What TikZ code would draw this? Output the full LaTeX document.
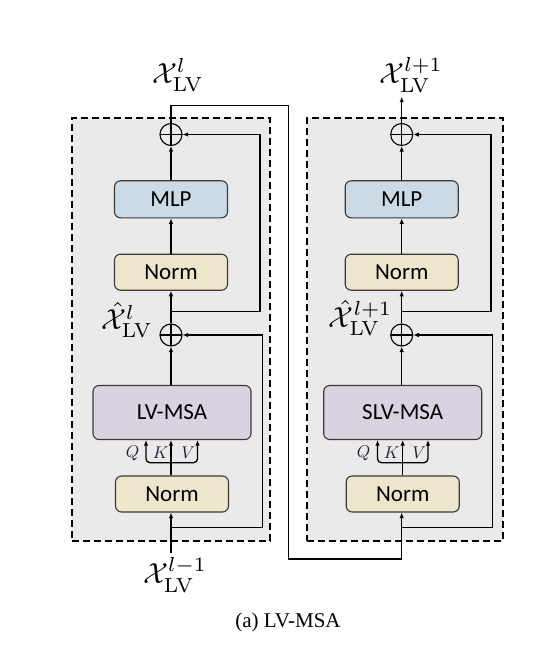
\documentclass[tikz,border=0pt]{standalone}
\usepackage{amsmath}
\usepackage[no-math]{fontspec}
\newfontfamily\boxfont{Carlito}
\newfontfamily\capfont{Liberation Serif}
\usetikzlibrary{arrows.meta}
\definecolor{panelbg}{HTML}{EAEAEA}
\definecolor{mlpc}{HTML}{CCDAE5}
\definecolor{normc}{HTML}{EEE5CD}
\definecolor{msac}{HTML}{DAD1E1}
\definecolor{boxline}{HTML}{3A3A3A}
\definecolor{qkvc}{HTML}{1A2238}
\tikzset{
  blk/.style={draw=boxline, line width=1.1pt, rounded corners=6pt, inner sep=0pt,
    font=\boxfont\fontsize{23}{26}\selectfont},
  mlpbox/.style={blk, fill=mlpc, minimum width=113pt, minimum height=37pt},
  normbox/.style={blk, fill=normc, minimum width=113pt, minimum height=36pt},
  msabox/.style={blk, fill=msac, minimum width=158pt, minimum height=54pt},
  addop/.style={circle, draw, line width=1.1pt, minimum size=22pt, inner sep=0pt,
    path picture={\draw[line width=1.1pt] (path picture bounding box.north) -- (path picture bounding box.south)
      (path picture bounding box.west) -- (path picture bounding box.east);}},
  conn/.style={line width=1.3pt, -{Latex[length=5.5pt,width=4.5pt]}},
  wire/.style={line width=1.3pt},
  panel/.style={draw, dash pattern=on 7pt off 4pt, line width=1.6pt, fill=panelbg},
  mathlbl/.style={scale=2.9, inner sep=0pt},
  qkv/.style={scale=1.7, text=qkvc, inner sep=0pt},
  caplbl/.style={font=\capfont\fontsize{21}{24}\selectfont, inner sep=0pt}
}
\begin{document}
\begin{tikzpicture}[x=1pt,y=-1pt]
\useasboundingbox (0,0) rectangle (542,652);
\fill[white] (0,0) rectangle (542,652);
% panels
\node[panel, minimum width=198pt, minimum height=423pt] (P1) at (171,329.5) {};
\node[panel, minimum width=196pt, minimum height=423pt] (P2) at (405,329.5) {};
% left column
\node[addop] (addT1) at (171,134.5) {};
\node[mlpbox] (mlp1) at (171,199.3) {MLP};
\node[normbox] (normA1) at (171,272.2) {Norm};
\node[addop] (add1) at (171,335) {};
\node[msabox] (msa1) at (172,412.5) {LV-MSA};
\node[normbox] (normB1) at (172,494) {Norm};
% right column
\node[addop] (addT2) at (401.7,134.5) {};
\node[mlpbox] (mlp2) at (401.7,199.3) {MLP};
\node[normbox] (normA2) at (401.7,272.2) {Norm};
\node[addop] (add2) at (401.7,335) {};
\node[msabox] (msa2) at (402.7,412.5) {SLV-MSA};
\node[normbox] (normB2) at (402.7,494) {Norm};
% helper coordinates
\coordinate (b1) at (171,311.7);
\coordinate (u1) at (260,134.5);
\coordinate (bb1) at (171,527.7);
\coordinate (w1) at (262.3,335);
\coordinate (in1) at (171,553);
\coordinate (b2) at (401.7,311.7);
\coordinate (u2) at (491,134.5);
\coordinate (bb2) at (401.7,527.7);
\coordinate (w2) at (492.7,335);
\coordinate (out2) at (401.7,96.7);
\coordinate (o1) at (288.7,105.7);
\coordinate (o2) at (288.7,559);
\coordinate (br1) at (171,462.7);
\coordinate (qa1) at (146,0);
\coordinate (va1) at (197.5,0);
\coordinate (br2) at (402.7,462.7);
\coordinate (qa2) at (377.5,0);
\coordinate (va2) at (428,0);
% main flow left
\draw[conn] (in1) -- (normB1.south -| in1);
\draw[conn] (normB1.north -| br1) -- (msa1.south -| br1);
\draw[conn, rounded corners=4pt] (br1) -| (msa1.south -| qa1);
\draw[conn, rounded corners=4pt] (br1) -| (msa1.south -| va1);
\draw[conn] (msa1.north -| add1) -- (add1.south);
\draw[conn] (add1.north) -- (normA1.south);
\draw[conn] (normA1.north) -- (mlp1.south);
\draw[conn] (mlp1.north) -- (addT1.south);
\draw[conn] (b1) -| (u1) -- (addT1.east);
\draw[conn] (bb1) -| (w1) -- (add1.east);
% link between blocks
\draw[conn] (addT1.north) |- (o1) -- (o2) -| (normB2.south -| add2);
% main flow right
\draw[conn] (normB2.north -| br2) -- (msa2.south -| br2);
\draw[conn, rounded corners=4pt] (br2) -| (msa2.south -| qa2);
\draw[conn, rounded corners=4pt] (br2) -| (msa2.south -| va2);
\draw[conn] (msa2.north -| add2) -- (add2.south);
\draw[conn] (add2.north) -- (normA2.south);
\draw[conn] (normA2.north) -- (mlp2.south);
\draw[conn] (mlp2.north) -- (addT2.south);
\draw[conn] (b2) -| (u2) -- (addT2.east);
\draw[conn] (bb2) -| (w2) -- (add2.east);
\draw[conn] (addT2.north) -- (out2);
% QKV labels
\node[qkv] (Q1) at (132.7,453) {$Q$};
\node[qkv] (K1) at (160.7,453) {$K$};
\node[qkv] (V1) at (188.3,453) {$V$};
\node[qkv] (Q2) at (363.6,453) {$Q$};
\node[qkv] (K2) at (391.7,453) {$K$};
\node[qkv] (V2) at (419.3,453) {$V$};
% math labels
\node[mathlbl] (lT1) at (178,75) {$\mathcal{X}^{l}_{\mathrm{LV}}$};
\node[mathlbl] (lH1) at (127,320) {$\hat{\mathcal{X}}^{l}_{\mathrm{LV}}$};
\node[mathlbl] (lB1) at (175,575) {$\mathcal{X}^{l-1}_{\mathrm{LV}}$};
\node[mathlbl] (lT2) at (411,75) {$\mathcal{X}^{l+1}_{\mathrm{LV}}$};
\node[mathlbl] (lH2) at (360.5,318) {$\hat{\mathcal{X}}^{l+1}_{\mathrm{LV}}$};
% caption
\node[caplbl] (cap) at (288,622) {(a) LV-MSA};
\end{tikzpicture}
\end{document}
